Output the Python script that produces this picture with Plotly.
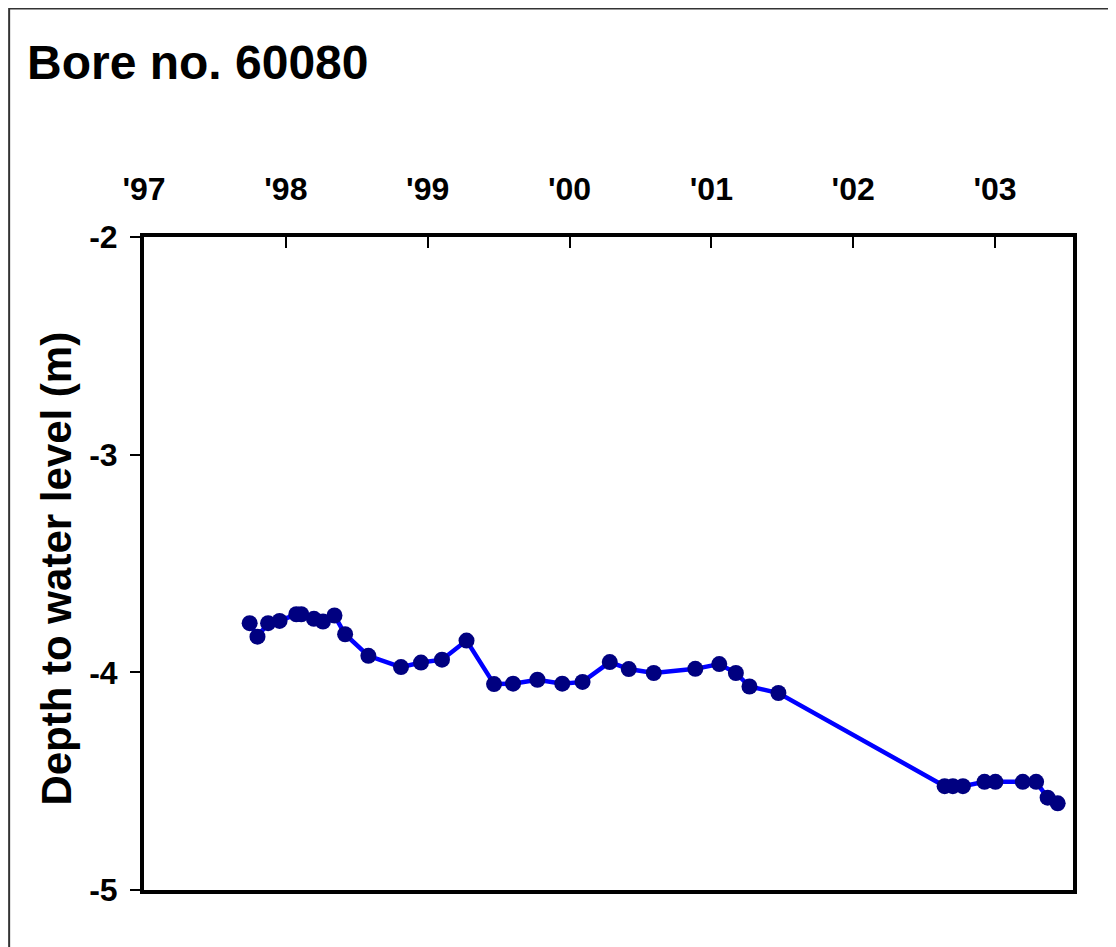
import plotly.graph_objects as go

# Decimal year of each measurement
years = [1997.745, 1997.800, 1997.875, 1997.956, 1998.074, 1998.109, 1998.198, 1998.262,
         1998.343, 1998.418, 1998.582, 1998.812, 1998.953, 1999.101, 1999.274, 1999.468,
         1999.602, 1999.774, 1999.949, 2000.092, 2000.284, 2000.418, 2000.594, 2000.887,
         2001.056, 2001.173, 2001.269, 2001.473, 2002.645, 2002.703, 2002.774, 2002.926,
         2003.003, 2003.196, 2003.290, 2003.371, 2003.442]
# Depth to water level (m)
depth = [-3.774, -3.836, -3.774, -3.764, -3.733, -3.733, -3.754, -3.767,
         -3.739, -3.825, -3.924, -3.976, -3.955, -3.942, -3.854, -4.054,
         -4.052, -4.034, -4.052, -4.044, -3.953, -3.985, -4.003, -3.984,
         -3.962, -4.003, -4.065, -4.095, -4.523, -4.523, -4.523, -4.503,
         -4.503, -4.503, -4.503, -4.576, -4.602]

tick_years = [1997, 1998, 1999, 2000, 2001, 2002, 2003]
tick_labels = ["'97", "'98", "'99", "'00", "'01", "'02", "'03"]

FONT = "Liberation Sans, Arial, sans-serif"

fig = go.Figure()
fig.add_trace(go.Scatter(
    x=years, y=depth, mode="lines+markers",
    line=dict(color="#0000FF", width=4.5),
    marker=dict(color="#000080", size=16, line=dict(width=0)),
    showlegend=False,
))

# page body adds an 8px offset; figure sized to fit the window exactly
W, H = 1108, 939
L, R, T, B = 135.5, 1065.5, 229, 882
pw, ph = R - L, B - T
fig.update_layout(
    width=W, height=H,
    margin=dict(l=L, r=W - R, t=T, b=H - B, autoexpand=False),
    paper_bgcolor="white", plot_bgcolor="white",
    font=dict(family=FONT, color="black"),
    title=dict(text="Bore no. 60080", x=19 / W, xanchor="left", xref="container",
               y=1 - 54 / H, yanchor="middle", yref="container",
               font=dict(family=FONT, size=48, weight="bold", color="black")),
    xaxis=dict(
        side="top", range=[1997, 2003.55], tickvals=tick_years, ticktext=tick_labels,
        ticks="inside", ticklen=11, tickwidth=2, tickcolor="black",
        showline=True, linewidth=4, linecolor="black", mirror=True,
        showgrid=False, zeroline=False, ticklabelstandoff=20,
        tickfont=dict(family=FONT, size=32, weight="bold", color="black"),
    ),
    yaxis=dict(
        range=[-5, -2], tickvals=[-5, -4, -3, -2], ticktext=["-5", "-4", "-3", "-2"],
        ticks="outside", ticklen=10, tickwidth=2, tickcolor="black",
        showline=True, linewidth=4, linecolor="black", mirror=True,
        showgrid=False, zeroline=False, ticklabelstandoff=6,
        tickfont=dict(family=FONT, size=32, weight="bold", color="black"),
    ),
)

# y-axis title
fig.add_annotation(text="Depth to water level (m)", textangle=-90, showarrow=False,
                   xref="paper", yref="paper",
                   x=(47 - L) / pw, y=(B - 561) / ph, xanchor="center", yanchor="middle",
                   font=dict(family=FONT, size=42, weight="bold", color="black"))

# outer chart border (top and left visible)
fig.add_shape(type="rect", xref="paper", yref="paper",
              x0=(0.5 - L) / pw, x1=(W + 10 - L) / pw,
              y0=(B - (H + 10)) / ph, y1=(B - 0.5) / ph,
              line=dict(color="#333333", width=2), fillcolor="rgba(0,0,0,0)", layer="below")

fig.write_html("out.html")
